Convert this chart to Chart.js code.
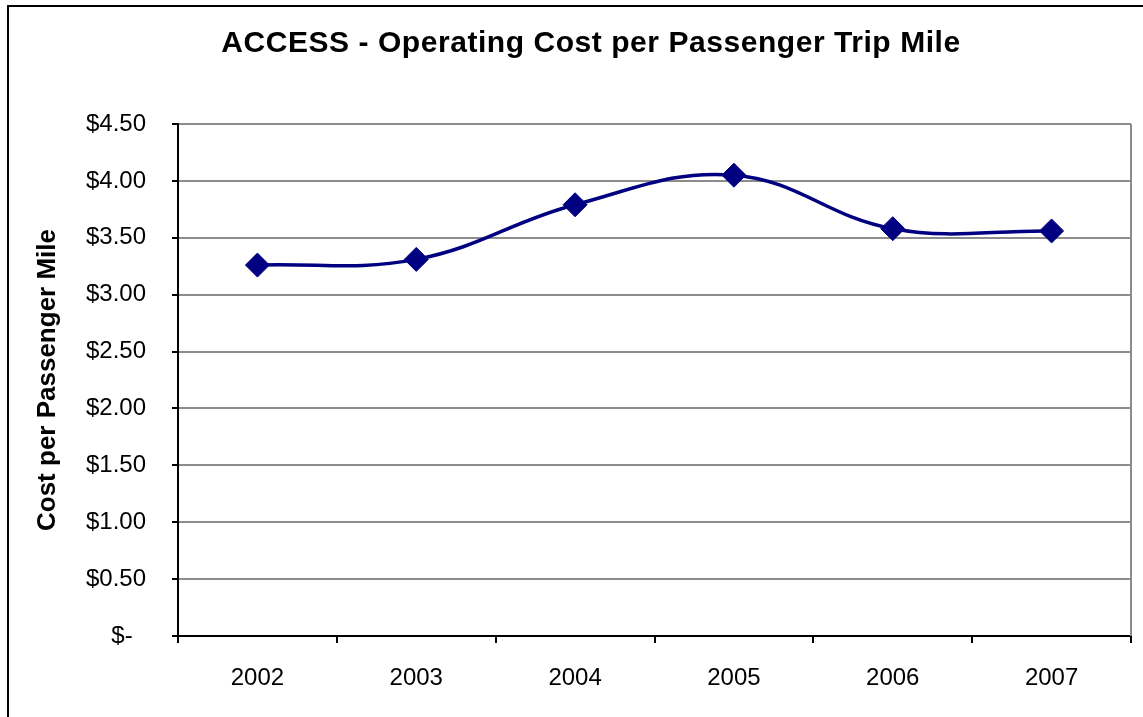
<!DOCTYPE html>
<html>
<head>
<meta charset="utf-8">
<script src="https://cdn.jsdelivr.net/npm/chart.js@4/dist/chart.umd.min.js"></script>
<style>
  html, body { margin: 0; padding: 0; background: #ffffff; overflow: hidden; }
  #wrap { width: 1182px; height: 717px; position: relative; }
  canvas { display: block; }
</style>
</head>
<body>
<div id="wrap"><canvas id="c" width="1182" height="717"></canvas></div>
<script>
const titleText = 'ACCESS - Operating Cost per Passenger Trip Mile';
const yAxisTitle = 'Cost per Passenger Mile';
const years = ['2002', '2003', '2004', '2005', '2006', '2007'];
const costPerMile = [3.26, 3.31, 3.79, 4.05, 3.58, 3.56];
const yTickValues = [0, 0.5, 1, 1.5, 2, 2.5, 3, 3.5, 4, 4.5];
const yTickLabels = ['$-  ', '$0.50', '$1.00', '$1.50', '$2.00', '$2.50', '$3.00', '$3.50', '$4.00', '$4.50'];

const FONT = '"Liberation Sans", Arial, "DejaVu Sans", sans-serif';

const framePlugin = {
  id: 'frame',
  beforeDraw(chart) {
    const ctx = chart.ctx;
    ctx.save();
    ctx.fillStyle = '#ffffff';
    ctx.fillRect(0, 0, chart.width, chart.height);
    ctx.strokeStyle = '#000000';
    ctx.lineWidth = 2;
    ctx.strokeRect(8, 6, 1166, 740);
    // chart title, centred on the full chart frame
    ctx.fillStyle = '#000000';
    ctx.font = 'bold 30px ' + FONT;
    ctx.textAlign = 'center';
    ctx.textBaseline = 'middle';
    try { ctx.letterSpacing = '0.55px'; } catch (e) {}
    ctx.fillText(titleText, 591, 44);
    ctx.restore();
  },
  beforeDatasetsDraw(chart) {
    const a = chart.chartArea;
    const ctx = chart.ctx;
    ctx.save();
    ctx.strokeStyle = '#8c8c8c';
    ctx.lineWidth = 2;
    ctx.beginPath();
    ctx.moveTo(a.right, a.top);
    ctx.lineTo(a.right, a.bottom);
    ctx.stroke();
    ctx.restore();
  }
};

new Chart(document.getElementById('c'), {
  type: 'line',
  data: {
    labels: years,
    datasets: [{
      data: costPerMile,
      borderColor: '#000080',
      backgroundColor: '#000080',
      borderWidth: 3.5,
      tension: 0.4,
      pointStyle: 'rectRot',
      pointRadius: 12,
      pointHoverRadius: 12,
      pointBorderWidth: 1,
      pointBackgroundColor: '#000080',
      pointBorderColor: '#000080',
      fill: false,
      clip: false
    }]
  },
  options: {
    responsive: false,
    animation: false,
    devicePixelRatio: 1,
    layout: { padding: { left: 0, right: 51, top: 124, bottom: 0 } },
    plugins: {
      legend: { display: false },
      tooltip: { enabled: false },
      title: { display: false }
    },
    scales: {
      x: {
        type: 'category',
        offset: true,
        afterFit(scale) { scale.height = 81; },
        grid: {
          offset: true,
          drawOnChartArea: false,
          drawTicks: true,
          tickLength: 7,
          tickColor: '#000000',
          tickWidth: 2,
          color: '#000000',
          lineWidth: 2
        },
        border: { display: true, color: '#000000', width: 2 },
        ticks: {
          color: '#000000',
          padding: 21,
          maxRotation: 0,
          font: { family: FONT, size: 24, lineHeight: 1.2 }
        }
      },
      y: {
        min: 0,
        max: 4.5,
        afterFit(scale) { scale.width = 178; },
        afterBuildTicks(scale) { scale.ticks = yTickValues.map(v => ({ value: v })); },
        grid: {
          color: '#8c8c8c',
          lineWidth: 2,
          drawTicks: true,
          tickLength: 6,
          tickColor: '#000000',
          tickWidth: 2
        },
        border: { display: true, color: '#000000', width: 2 },
        ticks: {
          color: '#000000',
          padding: 26,
          font: { family: FONT, size: 24, lineHeight: 1.2 },
          callback(value, index) { return yTickLabels[index]; }
        },
        title: {
          display: true,
          text: yAxisTitle,
          color: '#000000',
          font: { family: FONT, size: 26, weight: 'bold', lineHeight: 1.2 },
          padding: { top: 32, bottom: 0 }
        }
      }
    }
  },
  plugins: [framePlugin]
});
</script>
</body>
</html>
